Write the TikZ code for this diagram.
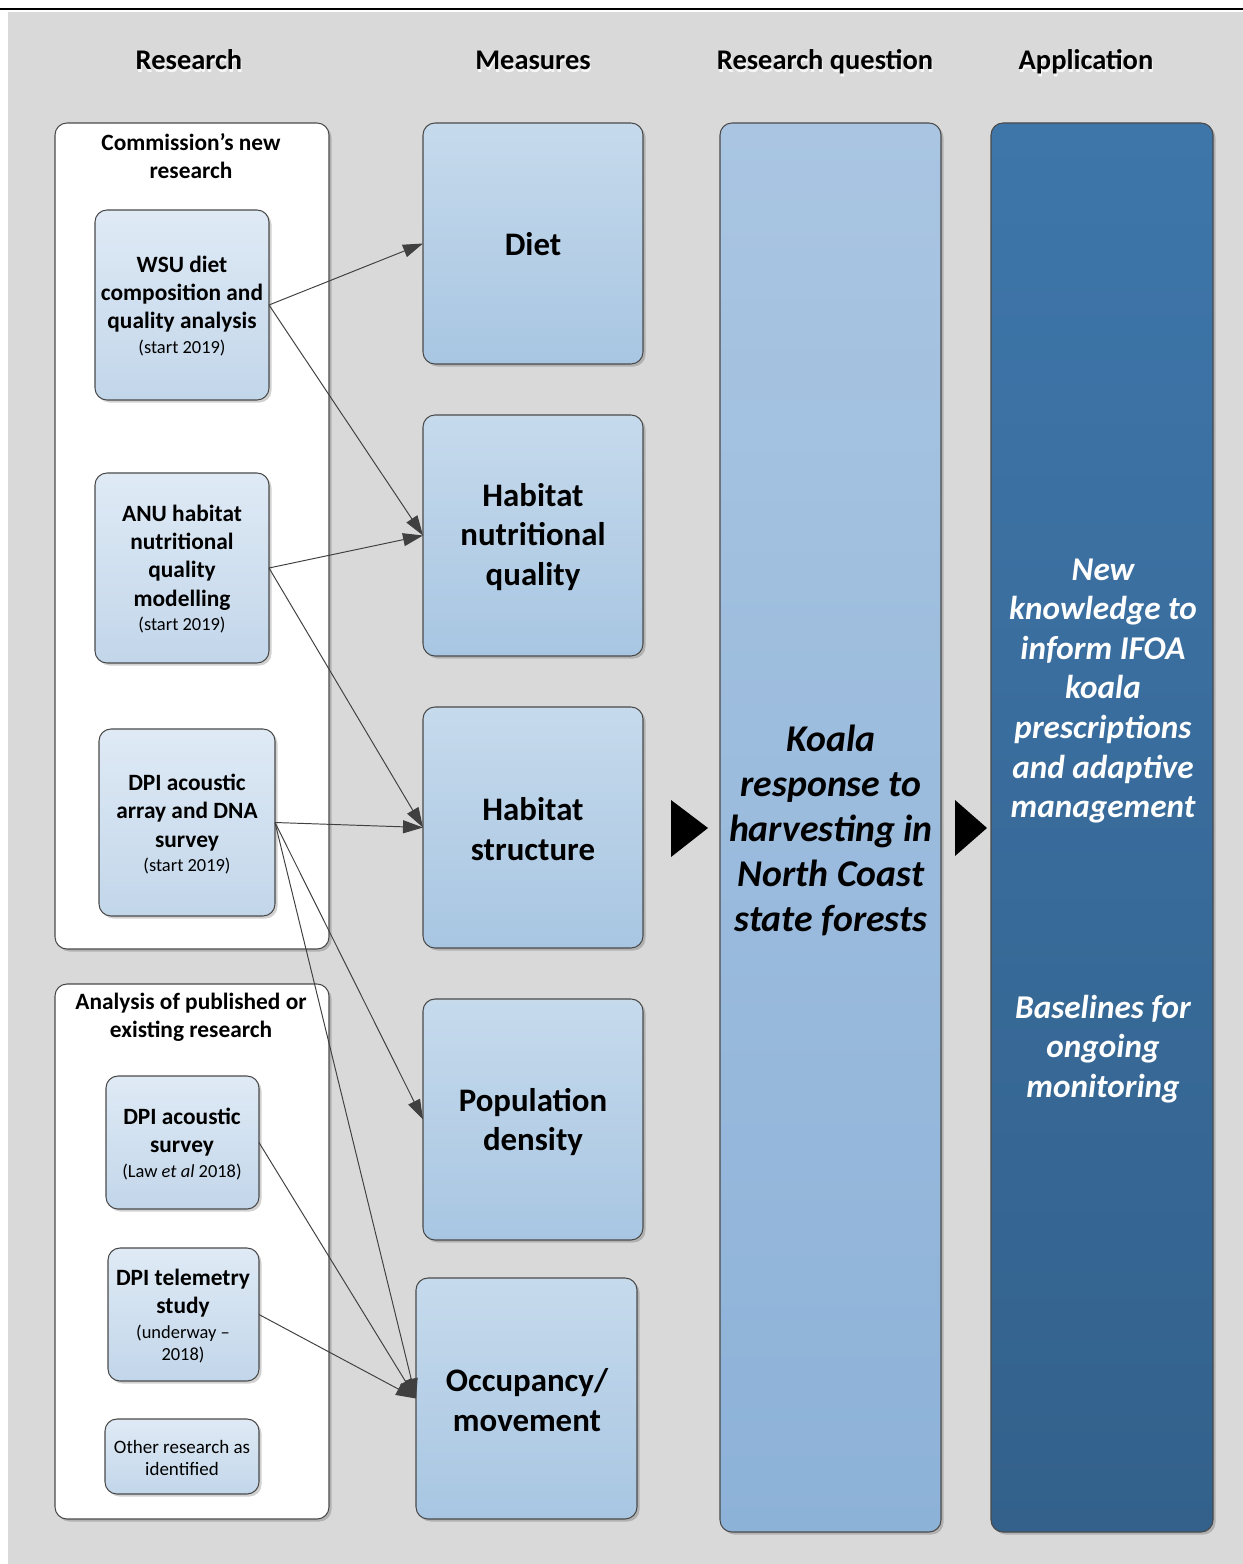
\documentclass[tikz,border=0pt]{standalone}
\usepackage{fontspec}
\setmainfont{Carlito}
\usetikzlibrary{arrows.meta,fit,shadows}
\definecolor{bggray}{HTML}{D9D9D9}
\definecolor{edge}{HTML}{4A4A4A}
\definecolor{sTop}{HTML}{DFEAF5}
\definecolor{sBot}{HTML}{C2D6EA}
\definecolor{mTop}{HTML}{C6DAEC}
\definecolor{mBot}{HTML}{A8C6E2}
\definecolor{qTop}{HTML}{A9C5E2}
\definecolor{qBot}{HTML}{8DB2D8}
\definecolor{aTop}{HTML}{3E76AA}
\definecolor{aBot}{HTML}{33618C}
\definecolor{arr}{HTML}{404040}
\tikzset{
  base/.style={inner sep=0pt, outer sep=0pt, draw=edge, line width=0.6pt, rounded corners=0.24cm, align=center,
    drop shadow={shadow xshift=0.05cm, shadow yshift=-0.05cm, opacity=0.18, fill=black}},
  groupbox/.style={base, fill=white},
  sbox/.style={base, top color=sTop, bottom color=sBot},
  mbox/.style={base, top color=mTop, bottom color=mBot},
  qbox/.style={base, top color=qTop, bottom color=qBot},
  abox/.style={base, top color=aTop, bottom color=aBot},
  header/.style={font=\fontsize{16.2}{19}\selectfont\bfseries, inner sep=0pt, anchor=base},
  sbold/.style={font=\fontsize{13.3}{16.1}\selectfont\bfseries, align=center, inner sep=0pt},
  mtext/.style={font=\fontsize{18.7}{22.6}\selectfont\bfseries, align=center, inner sep=0pt},
  conn/.style={draw=arr, line width=0.55pt, -{Triangle[length=0.4cm,width=0.26cm]}},
  marker/.style={fill=black}
}
\newcommand{\smalltxt}[1]{{\fontsize{10.5}{13}\mdseries #1}}
\begin{document}
\begin{tikzpicture}[x=0.02cm,y=-0.02cm]
\useasboundingbox (0,0) rectangle (1243,1564);
\fill[bggray] (8,12) rectangle (1243,1564);
\draw[line width=1.3pt] (0,9) -- (1243,9);

% headers
\foreach \x/\t [count=\i] in {189/Research,533/Measures,825/Research question,1086/Application}{
  \node[header, text=white, opacity=0.8] (hs\i) at (\x+1,73) {\t};
  \node[header] (h\i) at (\x,70) {\t};
}

% group boxes
\node[groupbox, fit={(55,123)(329,949)}] (g1) {};
\node[groupbox, fit={(55,984)(329,1519)}] (g2) {};
\node[sbold] (g1t) at (191,156) {Commission’s new\\research};
\node[sbold] (g2t) at (191,1017) {Analysis of published or\\existing research};

% research boxes
\node[sbox, fit={(95,210)(269,400)}] (wsu) {};
\node[sbold] (wsut) at (182,306) {WSU diet\\composition and\\quality analysis\\[-2.2pt]\smalltxt{(start 2019)}};
\node[sbox, fit={(95,473)(269,663)}] (anu) {};
\node[sbold] (anut) at (182,569) {ANU habitat\\nutritional\\quality\\modelling\\[-2.2pt]\smalltxt{(start 2019)}};
\node[sbox, fit={(99,729)(275,916)}] (dpa) {};
\node[sbold] (dpat) at (187,824) {DPI acoustic\\array and DNA\\survey\\[-2.2pt]\smalltxt{(start 2019)}};
\node[sbox, fit={(106,1076)(259,1209)}] (dps) {};
\node[sbold] (dpst) at (182,1144) {DPI acoustic\\survey\\[-2.2pt]\smalltxt{(Law \textit{et al} 2018)}};
\node[sbox, fit={(108,1248)(259,1381)}] (tel) {};
\node[sbold] (telt) at (183,1316) {DPI telemetry\\study\\[-2.2pt]\smalltxt{(underway –}\\[-3.5pt]\smalltxt{2018)}};
\node[sbox, fit={(105,1419)(259,1494)}] (oth) {};
\node[font=\fontsize{10.8}{13}\selectfont, align=center, inner sep=0pt] (otht) at (182,1458) {Other research as\\identified};

% measures
\node[mbox, fit={(423,123)(643,364)}] (diet) {};
\node[mtext] (dtxt) at (533,244) {Diet};
\node[mbox, fit={(423,415)(643,656)}] (hnq) {};
\node[mtext] (hnqt) at (533,537) {Habitat\\nutritional\\quality};
\node[mbox, fit={(423,707)(643,948)}] (hs) {};
\node[mtext] (hst) at (533,829) {Habitat\\structure};
\node[mbox, fit={(423,999)(643,1240)}] (pd) {};
\node[mtext] (pdt) at (533,1122) {Population\\density};
\node[mbox, fit={(416,1278)(637,1519)}] (occ) {};
\node[mtext] (occt) at (527,1400) {Occupancy/\\movement};

% research question and application
\node[qbox, fit={(720,123)(941,1532)}] (rq) {};
\node[font=\fontsize{21.5}{25.6}\selectfont\bfseries\itshape, align=center, inner sep=0pt] (rqt) at (831,830) {Koala\\response to\\harvesting in\\North Coast\\state forests};
\node[abox, fit={(991,123)(1213,1532)}] (app) {};
\node[font=\fontsize{18.9}{22.5}\selectfont\bfseries\itshape, align=center, inner sep=0pt, text=white] (appt1) at (1103,691) {New\\knowledge to\\inform IFOA\\koala\\prescriptions\\and adaptive\\management};
\node[font=\fontsize{18.9}{22.5}\selectfont\bfseries\itshape, align=center, inner sep=0pt, text=white] (appt2) at (1103,1049) {Baselines for\\ongoing\\monitoring};

% flow markers
\fill[marker] (671,800) -- (708,828) -- (671,857) -- cycle;
\fill[marker] (955,800) -- (987,828) -- (955,856) -- cycle;

% connectors
\draw[conn] (wsu.east) -- (diet.west);
\draw[conn] (wsu.east) -- (hnq.west);
\draw[conn] (anu.east) -- (hnq.west);
\draw[conn] (anu.east) -- (hs.west);
\draw[conn] (dpa.east) -- (hs.west);
\draw[conn] (dpa.east) -- (pd.west);
\draw[conn] (dpa.east) -- (occ.west);
\draw[conn] (dps.east) -- (occ.west);
\draw[conn] (tel.east) -- (occ.west);
\end{tikzpicture}
\end{document}
